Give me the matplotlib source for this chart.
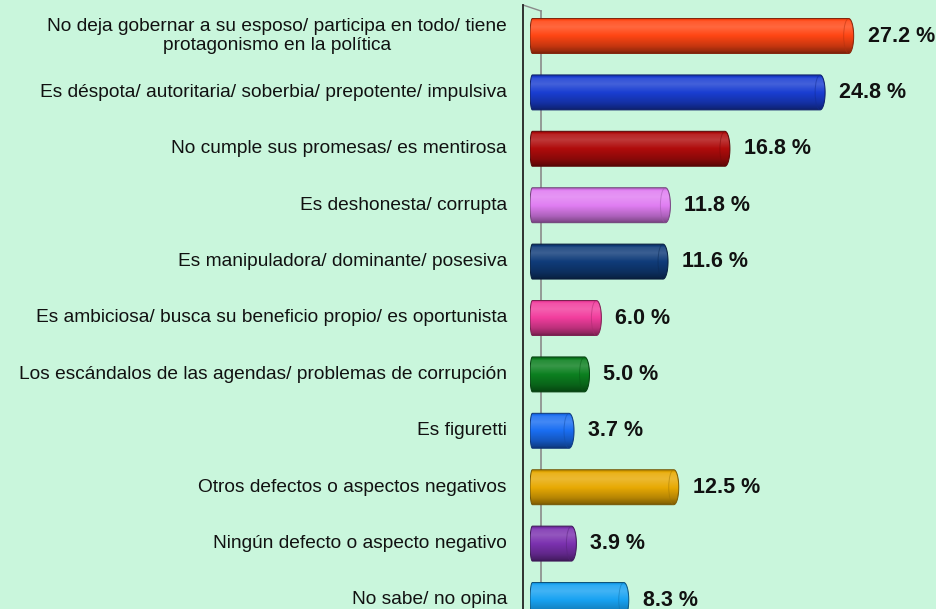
import numpy as np
import matplotlib
matplotlib.use("Agg")
import matplotlib.pyplot as plt
from matplotlib.colors import to_rgb
from matplotlib.path import Path
from matplotlib.patches import PathPatch, Ellipse

categories = [
    "No deja gobernar a su esposo/ participa en todo/ tiene\nprotagonismo en la política",
    "Es déspota/ autoritaria/ soberbia/ prepotente/ impulsiva",
    "No cumple sus promesas/ es mentirosa",
    "Es deshonesta/ corrupta",
    "Es manipuladora/ dominante/ posesiva",
    "Es ambiciosa/ busca su beneficio propio/ es oportunista",
    "Los escándalos de las agendas/ problemas de corrupción",
    "Es figuretti",
    "Otros defectos o aspectos negativos",
    "Ningún defecto o aspecto negativo",
    "No sabe/ no opina",
]
values = [27.2, 24.8, 16.8, 11.8, 11.6, 6.0, 5.0, 3.7, 12.5, 3.9, 8.3]
value_labels = ["27.2 %", "24.8 %", "16.8 %", "11.8 %", "11.6 %", "6.0 %",
                "5.0 %", "3.7 %", "12.5 %", "3.9 %", "8.3 %"]
colors = ["#ff4614", "#1a3ed2", "#b00c0c", "#e07ef2", "#103c7a", "#f23e9e",
          "#0c8020", "#1a6ef2", "#e8aa04", "#7c32b0", "#18a2f2"]

BG = "#c9f6dc"
W, H = 936, 609
fig = plt.figure(figsize=(W / 100, H / 100), dpi=100, facecolor=BG)

# axis lines (3D wall)
fig.add_artist(plt.Line2D([523 / W, 523 / W], [0, 1 - 5 / H], color="#222222",
                          lw=1.3, zorder=3))
fig.add_artist(plt.Line2D([541 / W, 541 / W], [0, 1 - 11 / H], color="#8a8a8a",
                          lw=1.2, zorder=0.5))
fig.add_artist(plt.Line2D([523 / W, 541 / W], [1 - 5 / H, 1 - 11 / H],
                          color="#8a8a8a", lw=1.0, zorder=0.5))

ax_left = 530 / W
ax = fig.add_axes([ax_left, 0, 1 - ax_left, 1])
ax.set_facecolor("none")
ax.patch.set_alpha(0)
px_per_unit = 11.9
xmax = (W - 530) / px_per_unit
ax.set_xlim(0, xmax)
y0, step = 36, 56.4
ax.set_ylim((H - y0) / step, -y0 / step)
for s in ax.spines.values():
    s.set_visible(False)
ax.set_xticks([])
ax.set_yticks([])
ax.set_zorder(2)

def shade(c, f):
    c = np.array(to_rgb(c))
    if f >= 1:
        return c + (1 - c) * (f - 1)
    return c * f

prof_t = np.array([0.0, 0.08, 0.25, 0.5, 0.8, 0.95, 1.0])
prof_f = np.array([0.80, 1.10, 1.18, 1.0, 0.78, 0.6, 0.5])
ny = 60
ts = np.linspace(0, 1, ny)
fs = np.interp(ts, prof_t, prof_f)

bh = 35 / step  # bar height in data units
rx = 5 / px_per_unit  # cap half-width
for i, (v, c) in enumerate(zip(values, colors)):
    top, bot = i - bh / 2, i + bh / 2
    img = np.array([shade(c, f) for f in fs]).reshape(ny, 1, 3)
    img = np.clip(img, 0, 1)
    theta = np.linspace(-np.pi / 2, np.pi / 2, 40)
    xe = (v - rx) + rx * np.cos(theta)
    ye = i + (bh / 2) * np.sin(theta)
    lx = 0.2
    th2 = np.linspace(np.pi / 2, 3 * np.pi / 2, 20)
    xl = lx + lx * np.cos(th2)
    yl = i + (bh / 2) * np.sin(th2)
    verts = np.vstack([np.column_stack([xe, ye]), np.column_stack([xl, yl])])
    verts = np.vstack([verts, verts[:1]])
    path = Path(verts, closed=True)
    patch = PathPatch(path, facecolor="none", edgecolor=shade(c, 0.5),
                      lw=0.7, zorder=3)
    im = ax.imshow(img, extent=[0, v, bot, top], aspect="auto",
                   interpolation="bilinear", zorder=2)
    ax.add_patch(patch)
    im.set_clip_path(patch)
    cap = Ellipse((v - rx, i), 2 * rx, bh, facecolor="none",
                  edgecolor=shade(c, 0.7), lw=0.7, zorder=4, alpha=0.5)
    cap.set_clip_path(patch)
    ax.add_patch(cap)
    ax.annotate(value_labels[i], xy=(v, i), xytext=(10, 0),
                textcoords="offset points", ha="left", va="center",
                fontsize=15.5, fontweight="bold", family="Liberation Sans",
                color="#111111", zorder=5)

for i, lab in enumerate(categories):
    ypx = y0 + step * i
    fig.text(507 / W, 1 - ypx / H, lab, ha="right", va="center",
             multialignment="center", fontsize=13.8, family="Liberation Sans",
             color="#111111", linespacing=1.15)

fig.savefig("out.png", dpi=100, facecolor=BG)
